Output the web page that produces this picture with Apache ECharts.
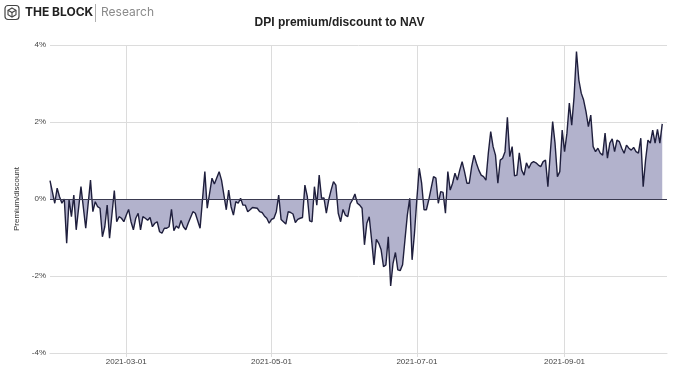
<!DOCTYPE html>
<html><head><meta charset="utf-8">
<script src="https://cdn.jsdelivr.net/npm/echarts@6/dist/echarts.min.js"></script>
<style>html,body{margin:0;padding:0;background:#fff}#c{width:679px;height:370px}</style>
</head><body><div id="c"></div>
<script>
// ---- data ----
const startDate = '2021-01-28';
const endDate = '2021-10-14';
const tickDates = ['2021-03-01', '2021-05-01', '2021-07-01', '2021-09-01'];
const yTicks = [-4, -2, 0, 2, 4];
const titleText = 'DPI premium/discount to NAV';
const yAxisName = 'Premium/discount';

// day offsets from startDate
const days = [
  0,2,3,4,5,6,7,8,9,10,11,13,15,17,18,19,20,21,22,23,24,25,
  27,28,29,30,31,32,33,34,35,36,37,38,39,40,41,42,43,44,45,46,47,48,49,50,51,52,53,54,55,56,57,58,
  60,61,63,
  65,66,68,69,71,72,74,75,76,77,78,79,80,81,82,83,84,85,
  87,88,89,90,91,92,93,94,95,96,97,98,99,100,101,102,103,104,105,106,107,108,109,110,
  111,112,113,114,115,116,117,118,119,120,121,122,123,124,125,126,127,128,129,130,
  131,132,133,134,135,136,137,138,139,140,141,142,143,144,145,146,147,148,149,150,
  151,152,153,154,155,156,157,158,159,160,161,162,163,164,165,166,167,168,169,170,
  171,172,173,174,175,176,177,178,179,180,181,182,183,184,185,186,187,188,189,190,
  191,192,193,194,195,196,197,198,199,200,201,202,203,204,205,206,207,208,209,210,
  211,212,213,214,215,216,217,218,219,220,221,222,223,224,225,226,227,228,229,230,
  231,232,233,234,235,236,237,238,239,240,241,242,243,244,245,246,247,248,249,250,
  251,252,253,254,255,256,257
];
// premium/discount in %
const premium = [
  0.48,-0.11,0.28,0.06,-0.11,0,-1.15,-0.02,-0.46,0.1,-0.8,0.32,-0.76,0.49,-0.33,-0.07,-0.2,-0.24,-0.98,-0.72,-0.16,-1.02,
  0.22,-0.59,-0.46,-0.5,-0.59,-0.42,-0.27,-0.59,-0.8,-0.5,-0.37,-0.8,-0.46,-0.5,-0.55,-0.48,-0.72,-0.63,-0.59,-0.85,-0.89,-0.76,-0.76,-0.72,-0.27,-0.82,-0.7,-0.76,-0.56,-0.72,-0.8,-0.63,
  -0.33,-0.37,-0.76,
  0.71,-0.24,0.54,0.39,0.71,0.49,-0.28,0.23,-0.2,-0.42,-0.07,-0.11,0.02,-0.16,-0.16,-0.33,-0.28,-0.22,
  -0.24,-0.33,-0.35,-0.44,-0.5,-0.63,-0.53,-0.5,-0.33,0.1,-0.53,-0.59,-0.65,-0.33,-0.35,-0.39,-0.61,-0.53,-0.5,-0.48,0.36,0.07,-0.57,-0.59,
  0.32,-0.16,0.62,0.02,0.03,-0.37,-0.02,0.23,0.45,0.36,-0.37,-0.59,-0.27,-0.42,-0.46,-0.13,-0.02,0.13,-0.11,-0.16,
  -0.24,-1.19,-0.63,-0.46,-1.06,-1.71,-1.05,-1.15,-1.32,-1.76,-1.71,-0.98,-2.26,-1.67,-1.39,-1.84,-1.86,-1.71,-1.06,-0.42,
  0.02,-1.58,-0.89,0,0.8,0.41,-0.28,-0.28,-0.02,0.28,0.58,0.54,-0.11,0.19,0.17,-0.37,0.71,0.23,0.41,0.67,
  0.49,0.75,0.97,0.71,0.41,0.41,0.84,1.14,0.93,0.75,0.62,0.58,0.49,1.19,1.75,1.36,1.14,0.41,1.01,1.06,
  1.23,2.12,1.1,1.36,0.6,0.62,1.2,0.75,0.62,0.94,0.8,0.93,0.97,0.94,0.88,0.84,0.97,1.01,0.32,1.19,
  2.01,1.45,0.58,0.71,1.79,1.23,1.71,2.49,1.92,2.66,3.83,3.09,2.75,2.57,2.27,1.88,2.18,1.36,1.23,1.32,
  1.19,1.14,1.71,1.06,1.45,1.56,1.23,1.53,1.49,1.32,1.19,1.4,1.32,1.27,1.34,1.23,1.19,1.58,0.32,1.01,
  1.53,1.45,1.79,1.45,1.81,1.45,1.95
];

// ---- helpers ----
const DAY = 86400000;
function utc(s) { return Date.UTC(+s.slice(0, 4), +s.slice(5, 7) - 1, +s.slice(8, 10)); }
const t0 = utc(startDate);
function dayOf(s) { return Math.round((utc(s) - t0) / DAY); }
function fmt(dayNum) {
  const d = new Date(t0 + Math.round(dayNum) * DAY);
  const p = n => (n < 10 ? '0' : '') + n;
  return d.getUTCFullYear() + '-' + p(d.getUTCMonth() + 1) + '-' + p(d.getUTCDate());
}
const seriesData = days.map((d, i) => [d, premium[i]]);
const tickValues = tickDates.map(dayOf);

const FONT = '"Liberation Sans", Arial, sans-serif';
const chart = echarts.init(document.getElementById('c'), null, { renderer: 'canvas' });
chart.setOption({
  animation: false,
  backgroundColor: '#ffffff',
  title: {
    text: titleText, left: 'center', top: 12,
    textStyle: { fontFamily: FONT, fontSize: 12, fontWeight: 'bold', color: '#222' }
  },
  graphic: [
    { type: 'rect', shape: { x: 5, y: 5.5, width: 14, height: 14, r: 3 }, style: { fill: 'none', stroke: '#444', lineWidth: 1.2 } },
    { type: 'polygon', shape: { points: [[12, 8], [16, 10.3], [16, 14.7], [12, 17], [8, 14.7], [8, 10.3]] }, style: { fill: 'none', stroke: '#444', lineWidth: 1.1 } },
    { type: 'polyline', shape: { points: [[8, 10.3], [12, 12.5], [16, 10.3]] }, style: { fill: 'none', stroke: '#444', lineWidth: 1.1 } },
    { type: 'line', shape: { x1: 12, y1: 12.5, x2: 12, y2: 17 }, style: { stroke: '#444', lineWidth: 1.1 } },
    { type: 'text', left: 25, top: 6.5, style: { text: 'THE BLOCK', font: 'bold 12px Inter, "Liberation Sans", sans-serif', fill: '#222' } },
    { type: 'line', shape: { x1: 95.5, y1: 4, x2: 95.5, y2: 22 }, style: { stroke: '#b0b0b0', lineWidth: 1 } },
    { type: 'text', left: 101, top: 6.5, style: { text: 'Research', font: '12px Inter, "Liberation Sans", sans-serif', fill: '#8a8a8a' } }
  ],
  grid: { left: 50, right: 12, top: 45, bottom: 17, containLabel: false },
  xAxis: {
    type: 'value',
    min: 0,
    max: dayOf(endDate),
    axisLine: { show: true, onZero: false, lineStyle: { color: '#dcdcdc', width: 1 } },
    axisTick: { show: true, length: 4, customValues: tickValues, lineStyle: { color: '#dcdcdc' } },
    axisLabel: { customValues: tickValues, formatter: v => fmt(v), fontFamily: FONT, fontSize: 8, color: '#444', margin: 5, hideOverlap: false },
    splitLine: { show: true, lineStyle: { color: '#dcdcdc', width: 1 } }
  },
  yAxis: {
    type: 'value', min: yTicks[0], max: yTicks[yTicks.length - 1], interval: 2,
    name: yAxisName, nameLocation: 'middle', nameRotate: 90, nameGap: 20,
    nameTextStyle: { fontFamily: FONT, fontSize: 8, color: '#333' },
    axisLine: { show: false }, axisTick: { show: false },
    axisLabel: { formatter: '{value}%', fontFamily: FONT, fontSize: 8, color: '#444', margin: 4 },
    splitLine: { show: true, lineStyle: { color: '#dcdcdc', width: 1 } }
  },
  series: [{
    type: 'line',
    data: seriesData,
    showSymbol: false,
    symbol: 'none',
    lineStyle: { color: '#1f1f3d', width: 1.4 },
    areaStyle: { color: '#b2b2cc', opacity: 1 },
    markLine: {
      silent: true, symbol: 'none', label: { show: false },
      lineStyle: { color: '#3a3a50', type: 'solid', width: 1 },
      data: [{ yAxis: 0 }]
    },
    z: 3
  }]
});
</script></body></html>
